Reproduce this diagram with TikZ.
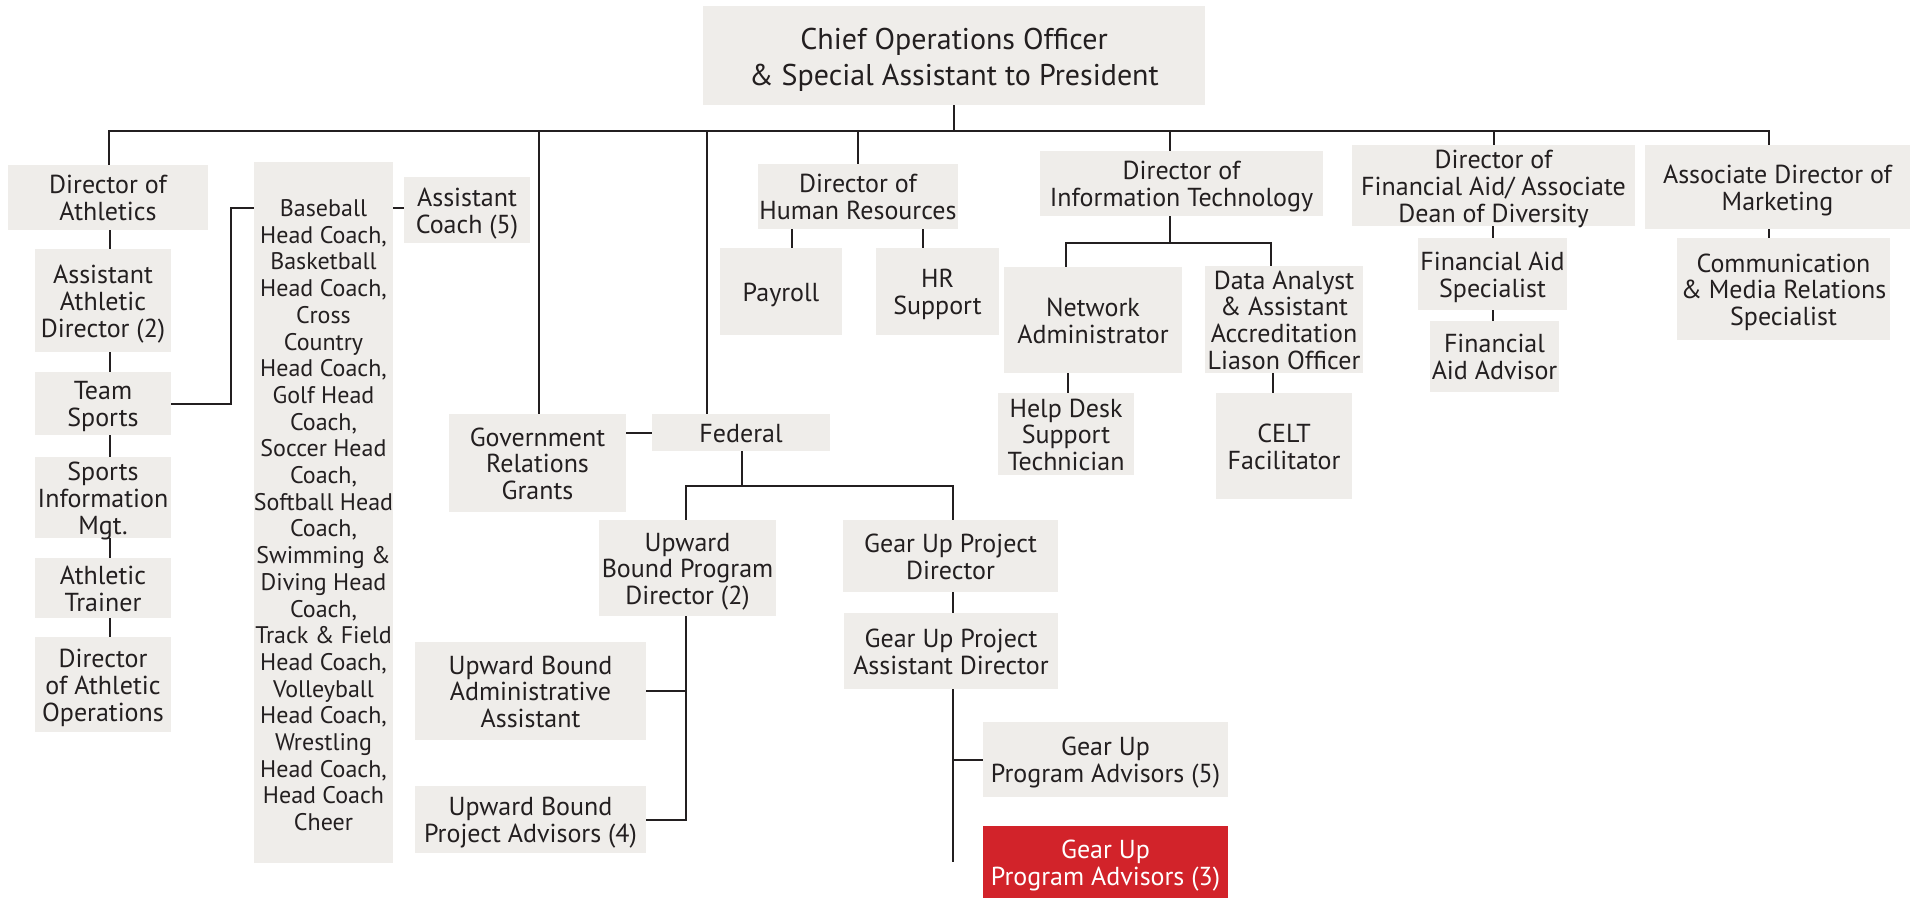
\documentclass[tikz,border=0pt]{standalone}
\usepackage{fontspec}
\setmainfont{PT Sans}
\definecolor{boxfill}{HTML}{EFEDEA}
\definecolor{ink}{HTML}{231F20}
\definecolor{redbox}{HTML}{D2232A}
\newcommand{\boxtext}[2][4.5pt]{\raisebox{-#1}[\height][\depth]{\begin{tabular}{@{}c@{}}#2\end{tabular}}}
\begin{document}
\begin{tikzpicture}[x=1pt,y=-1pt,
  bx/.style={fill=boxfill, text=ink, inner sep=0pt, font=\fontsize{26}{26.8}\selectfont},
  bigbx/.style={bx, font=\fontsize{30}{36}\selectfont},
  narrowbx/.style={bx, font=\fontsize{24}{26.7}\selectfont},
  redbx/.style={bx, fill=redbox, text=white},
  ln/.style={draw=ink, line width=2pt}]
\useasboundingbox (0,0) rectangle (1911,898);
% nodes
\node[bigbx, minimum width=502pt, minimum height=99pt] (chief) at (954,55.5) {\boxtext[4.3pt]{Chief Operations Officer\\\& Special Assistant to President}};
\node[bx, minimum width=200pt, minimum height=65pt] (athdir) at (108,197.5) {\boxtext{Director of\\Athletics}};
\node[bx, minimum width=136pt, minimum height=103pt] (asstath) at (103,300.5) {\boxtext{Assistant\\Athletic\\Director (2)}};
\node[bx, minimum width=136pt, minimum height=63pt] (team) at (103,403.5) {\boxtext{Team\\Sports}};
\node[bx, minimum width=136pt, minimum height=81pt] (sportsinfo) at (103,497.5) {\boxtext{Sports\\Information\\Mgt.}};
\node[bx, minimum width=136pt, minimum height=60pt] (trainer) at (103,588) {\boxtext{Athletic\\Trainer}};
\node[bx, minimum width=136pt, minimum height=95pt] (athops) at (103,684.5) {\boxtext{Director\\of Athletic\\Operations}};
\node[narrowbx, minimum width=137pt, minimum height=701pt] (baseball) at (323.5,512.5) {\boxtext[5.7pt]{Baseball\\Head Coach,\\Basketball\\Head Coach,\\Cross\\Country\\Head Coach,\\Golf Head\\Coach,\\Soccer Head\\Coach,\\Softball Head\\Coach,\\Swimming \&\\Diving Head\\Coach,\\Track \& Field\\Head Coach,\\Volleyball\\Head Coach,\\Wrestling\\Head Coach,\\Head Coach\\Cheer}};
\node[bx, minimum width=126pt, minimum height=66pt] (asstcoach) at (467,210) {\boxtext{Assistant\\Coach (5)}};
\node[bx, minimum width=177pt, minimum height=98pt] (gov) at (537.5,463) {\boxtext{Government\\Relations\\Grants}};
\node[bx, minimum width=178pt, minimum height=37pt] (federal) at (741,432.5) {\boxtext{Federal}};
\node[bx, minimum width=177pt, minimum height=96pt] (ubpd) at (687.5,568) {\boxtext{Upward\\Bound Program\\Director (2)}};
\node[bx, minimum width=231pt, minimum height=98pt] (ubaa) at (530.5,691) {\boxtext{Upward Bound\\Administrative\\Assistant}};
\node[bx, minimum width=231pt, minimum height=67pt] (ubpa) at (530.5,819.5) {\boxtext{Upward Bound\\Project Advisors (4)}};
\node[bx, minimum width=215pt, minimum height=72pt] (gupd) at (950.5,556) {\boxtext{Gear Up Project\\Director}};
\node[bx, minimum width=214pt, minimum height=76pt] (gupad) at (951,651) {\boxtext{Gear Up Project\\Assistant Director}};
\node[bx, minimum width=245pt, minimum height=75pt] (gupa5) at (1105.5,759.5) {\boxtext{Gear Up\\Program Advisors (5)}};
\node[redbx, minimum width=245pt, minimum height=72pt] (gupa3) at (1105.5,862) {\boxtext{Gear Up\\Program Advisors (3)}};
\node[bx, minimum width=200pt, minimum height=65pt] (hrdir) at (858,196.5) {\boxtext{Director of\\Human Resources}};
\node[bx, minimum width=122pt, minimum height=87pt] (payroll) at (781,291.5) {\boxtext{Payroll}};
\node[bx, minimum width=123pt, minimum height=87pt] (hrsupport) at (937.5,291.5) {\boxtext{HR\\Support}};
\node[bx, minimum width=283pt, minimum height=65pt] (itdir) at (1181.5,183.5) {\boxtext{Director of\\Information Technology}};
\node[bx, minimum width=178pt, minimum height=106pt] (netadmin) at (1093,320) {\boxtext{Network\\Administrator}};
\node[bx, minimum width=158pt, minimum height=107pt] (dataan) at (1284,319.5) {\boxtext{Data Analyst\\\& Assistant\\Accreditation\\Liason Officer}};
\node[bx, minimum width=136pt, minimum height=82pt] (helpdesk) at (1066,434) {\boxtext{Help Desk\\Support\\Technician}};
\node[bx, minimum width=136pt, minimum height=106pt] (celt) at (1284,446) {\boxtext{CELT\\Facilitator}};
\node[bx, minimum width=283pt, minimum height=81pt] (fadir) at (1493.5,185.5) {\boxtext{Director of\\Financial Aid/ Associate\\Dean of Diversity}};
\node[bx, minimum width=149pt, minimum height=72pt] (faspec) at (1492.5,274) {\boxtext{Financial Aid\\Specialist}};
\node[bx, minimum width=129pt, minimum height=71pt] (faadv) at (1494.5,356.5) {\boxtext{Financial\\Aid Advisor}};
\node[bx, minimum width=265pt, minimum height=84pt] (mkt) at (1777.5,187) {\boxtext{Associate Director of\\Marketing}};
\node[bx, minimum width=213pt, minimum height=102pt] (comm) at (1783.5,289) {\boxtext{Communication\\\& Media Relations\\Specialist}};
% helper coordinates
\coordinate (bus) at (0,131);
\coordinate (athsp) at (110,0);
\coordinate (tsj) at (231,208);
\coordinate (govx) at (539,0);
\coordinate (fedx) at (707,0);
\coordinate (itx) at (1170,0);
\coordinate (mktx) at (1769,0);
\coordinate (fabr) at (0,486);
\coordinate (ubx) at (686,0);
\coordinate (gux) at (953,0);
\coordinate (guend) at (953,862);
\coordinate (itbr) at (0,243);
% main bus
\draw[ln] (chief.south) -- (chief.south |- bus);
\draw[ln] (athdir.north -| 109,0) |- (mktx |- bus) -- (mktx |- mkt.north);
\draw[ln] (govx |- bus) -- (govx |- gov.north);
\draw[ln] (fedx |- bus) -- (fedx |- federal.north);
\draw[ln] (hrdir.north) -- (hrdir.north |- bus);
\draw[ln] (itx |- bus) -- (itx |- itdir.north);
\draw[ln] (fadir.north) -- (fadir.north |- bus);
% athletics spine
\draw[ln] (athsp |- athdir.south) -- (athsp |- asstath.north);
\draw[ln] (athsp |- asstath.south) -- (athsp |- team.north);
\draw[ln] (athsp |- team.south) -- (athsp |- sportsinfo.north);
\draw[ln] (athsp |- sportsinfo.south) -- (athsp |- trainer.north);
\draw[ln] (athsp |- trainer.south) -- (athsp |- athops.north);
\draw[ln] (team.east) -| (tsj) -- (tsj -| baseball.west);
\draw[ln] (baseball.east |- tsj) -- (asstcoach.west |- tsj);
% government / federal
\draw[ln] (gov.east |- federal.west) -- (federal.west);
\draw[ln] (federal.south -| 742,0) -- (742,486);
\draw[ln] (ubx |- ubpd.north) |- (fabr -| gux) -- (gux |- gupd.north);
\draw[ln] (ubx |- ubpd.south) |- (ubpa.east);
\draw[ln] (ubx |- ubaa.east) -- (ubaa.east);
\draw[ln] (gux |- gupd.south) -- (gux |- gupad.north);
\draw[ln] (gux |- gupad.south) -- (guend);
\draw[ln] (gux |- gupa5.west) -- (gupa5.west);
% HR
\draw[ln] (hrdir.south -| 792,0) -- (792,0 |- payroll.north);
\draw[ln] (hrdir.south -| 923,0) -- (923,0 |- hrsupport.north);
% IT
\draw[ln] (itx |- itdir.south) -- (itx |- itbr);
\draw[ln] (netadmin.north -| 1066,0) |- (itbr -| 1271,0) -- (1271,0 |- dataan.north);
\draw[ln] (netadmin.south -| 1068,0) -- (1068,0 |- helpdesk.north);
\draw[ln] (dataan.south -| 1273,0) -- (1273,0 |- celt.north);
% financial aid
\draw[ln] (fadir.south -| 1493,0) -- (1493,0 |- faspec.north);
\draw[ln] (faspec.south -| 1493,0) -- (1493,0 |- faadv.north);
% marketing
\draw[ln] (mktx |- mkt.south) -- (mktx |- comm.north);
\end{tikzpicture}
\end{document}
